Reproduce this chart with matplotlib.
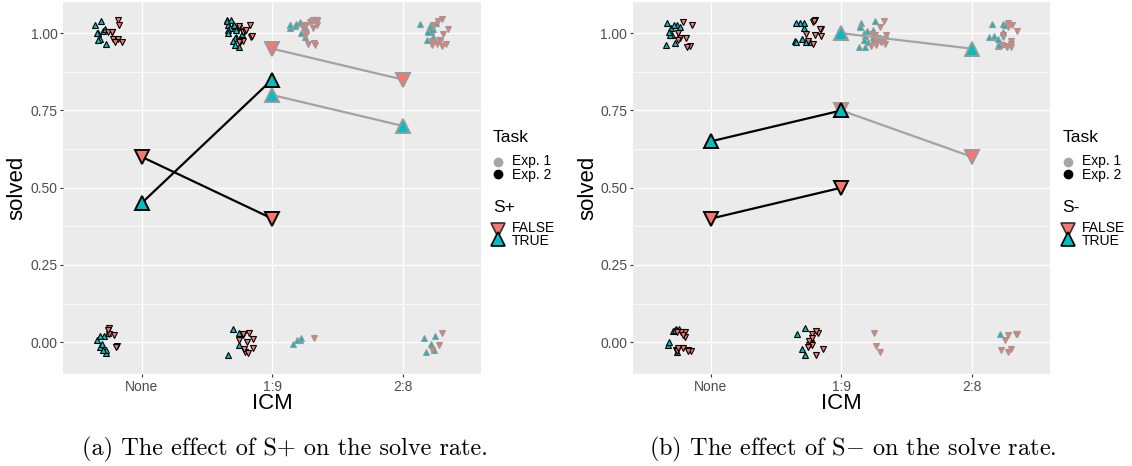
import numpy as np
import matplotlib
matplotlib.use("Agg")
import matplotlib.pyplot as plt
from matplotlib.lines import Line2D

plt.rcParams["font.family"] = ["Liberation Sans", "DejaVu Sans"]
plt.rcParams["mathtext.fontset"] = "cm"

categories = ["None", "1:9", "2:8"]

# mean solve rate per ICM level (nan = level not in that experiment)
splus_exp2_false = [0.60, 0.40, np.nan]
splus_exp2_true = [0.45, 0.85, np.nan]
splus_exp1_false = [np.nan, 0.95, 0.85]
splus_exp1_true = [np.nan, 0.80, 0.70]

sminus_exp2_false = [0.40, 0.50, np.nan]
sminus_exp2_true = [0.65, 0.75, np.nan]
sminus_exp1_false = [np.nan, 0.75, 0.60]
sminus_exp1_true = [np.nan, 1.00, 0.95]

# individual runs: number solved (1) / not solved (0) per ICM level
splus_exp2_false_solved = [9, 11, 0]
splus_exp2_false_failed = [6, 10, 0]
splus_exp2_true_solved = [9, 17, 0]
splus_exp2_true_failed = [9, 4, 0]
splus_exp1_false_solved = [0, 16, 13]
splus_exp1_false_failed = [0, 1, 3]
splus_exp1_true_solved = [0, 10, 11]
splus_exp1_true_failed = [0, 4, 5]

sminus_exp2_false_solved = [8, 10, 0]
sminus_exp2_false_failed = [12, 10, 0]
sminus_exp2_true_solved = [10, 10, 0]
sminus_exp2_true_failed = [7, 5, 0]
sminus_exp1_false_solved = [0, 13, 12]
sminus_exp1_false_failed = [0, 3, 7]
sminus_exp1_true_solved = [0, 14, 12]
sminus_exp1_true_failed = [0, 0, 1]

RED = "#F8766D"
CYAN = "#00BFC4"
EDGE = {"exp1": "#9A9A9A", "exp2": "black"}
LINE = {"exp1": "#A3A3A3", "exp2": "black"}
EXP_SHIFT = {"exp1": 0.24, "exp2": -0.25}
S_SHIFT = {True: -0.045, False: 0.045}

W, H = 1132, 466


def jitter(n, seed):
    # deterministic spread of overlapping runs (like geom_jitter)
    k = np.arange(1, n + 1) + seed * 17.0
    jx = (np.sin(k * 12.9898) * 43758.5453) % 1.0 - 0.5
    jy = (np.sin(k * 78.233) * 24634.6345) % 1.0 - 0.5
    return jx * 0.13, jy * 0.09


def draw_runs(ax, solved, failed, exp, s_true, seed):
    marker = "^" if s_true else "v"
    color = CYAN if s_true else RED
    for i in range(len(categories)):
        for val, n in ((1.0, solved[i]), (0.0, failed[i])):
            if n == 0:
                continue
            jx, jy = jitter(n, seed + i * 7 + int(val) * 3)
            x = i + 1 + EXP_SHIFT[exp] + S_SHIFT[s_true] + jx
            y = val + jy
            ax.plot(x, y, linestyle="none", marker=marker, ms=5, mfc=color,
                    mec=EDGE[exp], mew=0.8, zorder=3)


def draw_means(ax, means, exp, s_true):
    marker = "^" if s_true else "v"
    color = CYAN if s_true else RED
    x = np.arange(1, len(categories) + 1)
    y = np.array(means)
    ok = ~np.isnan(y)
    ax.plot(x[ok], y[ok], color=LINE[exp], lw=1.6, zorder=4)
    ax.plot(x[ok], y[ok], linestyle="none", marker=marker, ms=10, mfc=color,
            mec=EDGE[exp], mew=1.4, zorder=5)


def style_axes(ax):
    ax.set_facecolor("#EBEBEB")
    for sp in ax.spines.values():
        sp.set_visible(False)
    ax.set_xlim(0.4, 3.6)
    ax.set_ylim(-0.103, 1.101)
    ax.set_xticks([1, 2, 3])
    ax.set_xticklabels(categories)
    ax.set_yticks([0, 0.25, 0.5, 0.75, 1.0])
    ax.set_yticklabels(["0.00", "0.25", "0.50", "0.75", "1.00"])
    ax.set_yticks([-0.125 + 0.25 * k for k in range(1, 5)], minor=True)
    ax.grid(True, which="major", color="white", lw=1.0)
    ax.grid(True, which="minor", axis="y", color="white", lw=0.5)
    ax.tick_params(which="major", length=2.5, width=0.8, color="#333333",
                   labelcolor="#4D4D4D", labelsize=10, pad=1.5)
    ax.tick_params(which="minor", length=0)
    ax.set_axisbelow(True)
    ax.set_xlabel("ICM", fontsize=16)
    ax.set_ylabel("solved", fontsize=16)


def draw_legend(fig, x0, s_title):
    fx = lambda px: px / W
    fy = lambda py: 1 - py / H
    fig.text(fx(x0), fy(137), "Task", fontsize=12.5, va="center", ha="left")
    for py, c in ((162, "#A6A6A6"), (174, "black")):
        fig.add_artist(Line2D([fx(x0 + 5)], [fy(py)], transform=fig.transFigure,
                              marker="o", ms=6, mfc=c, mec=c, linestyle="none"))
    fig.text(fx(x0 + 19), fy(168), "Exp. 1\nExp. 2", fontsize=10, va="center",
             ha="left", linespacing=1.0)
    fig.text(fx(x0), fy(207), s_title, fontsize=12.5, va="center", ha="left")
    fig.add_artist(Line2D([fx(x0 + 5)], [fy(230)], transform=fig.transFigure,
                          marker="v", ms=10, mfc=RED, mec="#333333", mew=1.2,
                          linestyle="none"))
    fig.add_artist(Line2D([fx(x0 + 5)], [fy(239)], transform=fig.transFigure,
                          marker="^", ms=10, mfc=CYAN, mec="black", mew=1.2,
                          linestyle="none"))
    fig.text(fx(x0 + 19), fy(234.5), "FALSE\nTRUE", fontsize=10, va="center",
             ha="left", linespacing=0.85)


fig = plt.figure(figsize=(W / 100, H / 100), dpi=100)
ax1 = fig.add_axes([63.3 / W, 1 - 374 / H, (481 - 63.3) / W, 372 / H])
ax2 = fig.add_axes([632.7 / W, 1 - 374 / H, (1050 - 632.7) / W, 372 / H])

for ax in (ax1, ax2):
    style_axes(ax)
    ax.xaxis.set_label_coords(0.5, -0.078)
    ax.xaxis.label.set_va("center")
ax1.yaxis.set_label_coords(-0.111, 0.5)
ax2.yaxis.set_label_coords(-0.107, 0.5)
ax1.yaxis.label.set_va("center")
ax2.yaxis.label.set_va("center")

# panel (a): S+
draw_runs(ax1, splus_exp2_true_solved, splus_exp2_true_failed, "exp2", True, 1)
draw_runs(ax1, splus_exp2_false_solved, splus_exp2_false_failed, "exp2", False, 11)
draw_runs(ax1, splus_exp1_true_solved, splus_exp1_true_failed, "exp1", True, 21)
draw_runs(ax1, splus_exp1_false_solved, splus_exp1_false_failed, "exp1", False, 31)
draw_means(ax1, splus_exp1_false, "exp1", False)
draw_means(ax1, splus_exp1_true, "exp1", True)
draw_means(ax1, splus_exp2_false, "exp2", False)
draw_means(ax1, splus_exp2_true, "exp2", True)

# panel (b): S-
draw_runs(ax2, sminus_exp2_true_solved, sminus_exp2_true_failed, "exp2", True, 41)
draw_runs(ax2, sminus_exp2_false_solved, sminus_exp2_false_failed, "exp2", False, 51)
draw_runs(ax2, sminus_exp1_true_solved, sminus_exp1_true_failed, "exp1", True, 61)
draw_runs(ax2, sminus_exp1_false_solved, sminus_exp1_false_failed, "exp1", False, 71)
draw_means(ax2, sminus_exp1_false, "exp1", False)
draw_means(ax2, sminus_exp1_true, "exp1", True)
draw_means(ax2, sminus_exp2_false, "exp2", False)
draw_means(ax2, sminus_exp2_true, "exp2", True)

draw_legend(fig, 493, "S+")
draw_legend(fig, 1062.5, "S-")

fig.text(285 / W, 1 - 449 / H, "(a) The effect of S+ on the solve rate.",
         family="cmr10", fontsize=17.5, ha="center", va="center")
fig.text(853 / W, 1 - 449 / H, "(b) The effect of S$-$ on the solve rate.",
         family="cmr10", fontsize=17.5, ha="center", va="center")

fig.savefig("out.png", dpi=100)
